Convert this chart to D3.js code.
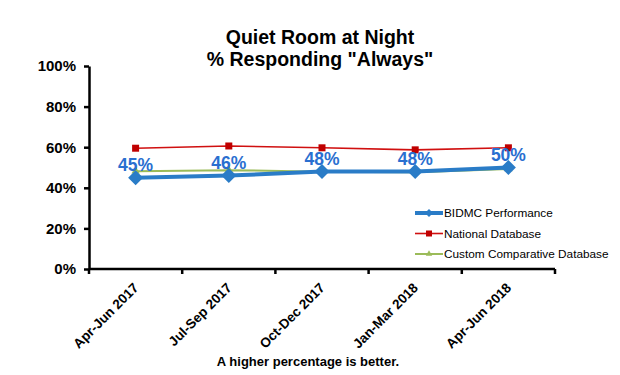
<!DOCTYPE html>
<html>
<head>
<meta charset="utf-8">
<script src="https://cdn.jsdelivr.net/npm/d3@7"></script>
<style>
  body { margin: 0; background: #fff; }
  text { font-family: Arial, "Liberation Sans", sans-serif; }
</style>
</head>
<body>
<script>
var width = 620,
    height = 375;

var categories = ["Apr-Jun 2017", "Jul-Sep 2017", "Oct-Dec 2017", "Jan-Mar 2018", "Apr-Jun 2018"];
var bidmc = [45, 46, 48, 48, 50];
var national = [59.5, 60.6, 59.7, 58.7, 59.7];
var custom = [48.2, 48.7, 47.9, 47.7, 49.3];
var yTicks = [0, 20, 40, 60, 80, 100];
var seriesNames = ["BIDMC Performance", "National Database", "Custom Comparative Database"];

var margin = {left: 89, right: 65, top: 66, bottom: 106};

var svg = d3.select("body").append("svg")
    .attr("width", width)
    .attr("height", height)
    .style("background", "#fff");

var x = d3.scaleBand()
    .domain(categories)
    .range([margin.left, width - margin.right]);

var y = d3.scaleLinear()
    .domain([0, 100])
    .range([height - margin.bottom, margin.top]);

var cx = function(d, i) { return x(categories[i]) + x.bandwidth() / 2; };

// title
var title = svg.append("text")
    .attr("text-anchor", "middle")
    .style("font-size", "19.5px")
    .style("font-weight", "bold");
title.append("tspan").attr("x", 320).attr("y", 44).text("Quiet Room at Night");
title.append("tspan").attr("x", 320).attr("y", 66).text('% Responding "Always"');

// y axis
var yAxis = svg.append("g")
    .attr("transform", "translate(" + margin.left + ",0)")
    .call(d3.axisLeft(y).tickValues(yTicks).tickSize(5).tickSizeOuter(0)
      .tickFormat(function(d) { return d + "%"; }));
yAxis.select(".domain").attr("stroke", "#000").attr("stroke-width", 2.5);
yAxis.selectAll(".tick line").attr("stroke", "#000").attr("stroke-width", 2.5);
yAxis.selectAll(".tick text")
    .attr("x", -13)
    .style("font-size", "15px")
    .style("font-weight", "bold")
    .attr("fill", "#000");

// x axis (ticks at band edges)
var xg = svg.append("g")
    .attr("transform", "translate(0," + y(0) + ")");
xg.append("line")
    .attr("x1", margin.left).attr("x2", width - margin.right)
    .attr("stroke", "#000").attr("stroke-width", 2.5);
xg.selectAll(".edge")
    .data(categories.concat([null]))
    .enter().append("line")
    .attr("x1", function(d, i) { return margin.left + i * x.step(); })
    .attr("x2", function(d, i) { return margin.left + i * x.step(); })
    .attr("y1", 0).attr("y2", 5)
    .attr("stroke", "#000").attr("stroke-width", 2.5);
xg.selectAll(".cat")
    .data(categories)
    .enter().append("text")
    .attr("transform", function(d, i) {
      return "translate(" + (cx(d, i) - 3) + ",13) rotate(-45)";
    })
    .attr("text-anchor", "end")
    .attr("dy", "0.7em")
    .style("font-size", "13.5px")
    .style("font-weight", "bold")
    .text(function(d) { return d; });

// lines
var line = d3.line()
    .x(function(d, i) { return cx(d, i); })
    .y(function(d) { return y(d); });

svg.append("path").datum(national)
    .attr("d", line).attr("fill", "none")
    .attr("stroke", "#d01010").attr("stroke-width", 1.6);
svg.selectAll(".nat").data(national).enter().append("rect")
    .attr("x", function(d, i) { return cx(d, i) - 3.5; })
    .attr("y", function(d) { return y(d) - 3.5; })
    .attr("width", 7).attr("height", 7)
    .attr("fill", "#c00000");

svg.append("path").datum(custom)
    .attr("d", line).attr("fill", "none")
    .attr("stroke", "#9bbb59").attr("stroke-width", 2);
svg.selectAll(".cus").data(custom).enter().append("path")
    .attr("d", d3.symbol(d3.symbolTriangle, 30))
    .attr("transform", function(d, i) { return "translate(" + cx(d, i) + "," + y(d) + ")"; })
    .attr("fill", "#9bbb59");

svg.append("path").datum(bidmc)
    .attr("d", line).attr("fill", "none")
    .attr("stroke", "#2a7cc7").attr("stroke-width", 4);
svg.selectAll(".bid").data(bidmc).enter().append("path")
    .attr("d", "M0,-7.5L7.5,0L0,7.5L-7.5,0Z")
    .attr("transform", function(d, i) { return "translate(" + cx(d, i) + "," + y(d) + ")"; })
    .attr("fill", "#2a7cc7");

// data labels
svg.selectAll(".lbl").data(bidmc).enter().append("text")
    .attr("x", function(d, i) { return cx(d, i); })
    .attr("y", function(d) { return y(d) - 7; })
    .attr("text-anchor", "middle")
    .attr("fill", "#2a6fd0")
    .style("font-size", "17.5px")
    .style("font-weight", "bold")
    .text(function(d) { return d + "%"; });

// legend
var legend = svg.selectAll(".leg")
    .data(seriesNames)
    .enter().append("g")
    .attr("transform", function(d, i) { return "translate(415," + (213 + i * 20.5) + ")"; });
legend.append("line")
    .attr("x1", 0).attr("x2", 28)
    .attr("stroke", function(d, i) { return ["#2a7cc7", "#d01010", "#9bbb59"][i]; })
    .attr("stroke-width", function(d, i) { return [4, 1.6, 2][i]; });
legend.each(function(d, i) {
  var g = d3.select(this);
  if (i === 0) g.append("path").attr("d", "M14,-4L18,0L14,4L10,0Z").attr("fill", "#2a7cc7");
  if (i === 1) g.append("rect").attr("x", 11).attr("y", -3).attr("width", 6).attr("height", 6).attr("fill", "#c00000");
  if (i === 2) g.append("path").attr("d", d3.symbol(d3.symbolTriangle, 18)).attr("transform", "translate(14,0)").attr("fill", "#9bbb59");
});
legend.append("text")
    .attr("x", 29)
    .attr("dy", "0.35em")
    .style("font-size", "11.8px")
    .text(function(d) { return d; });

// footer
svg.append("text")
    .attr("x", 308)
    .attr("y", 366)
    .attr("text-anchor", "middle")
    .style("font-size", "13px")
    .style("font-weight", "bold")
    .text("A higher percentage is better.");
</script>
</body>
</html>
